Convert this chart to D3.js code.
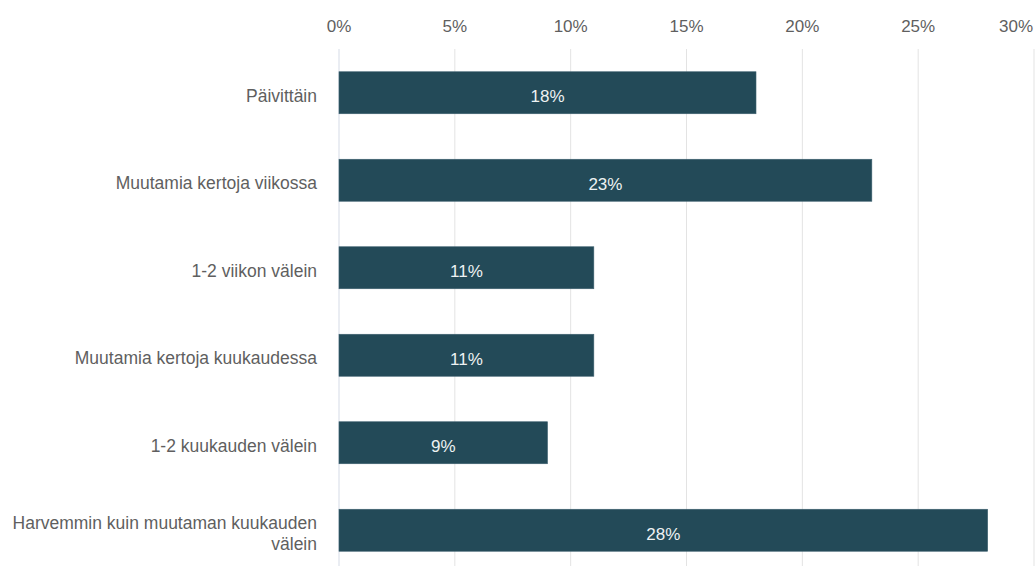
<!DOCTYPE html>
<html>
<head>
<meta charset="utf-8">
<script src="https://cdn.jsdelivr.net/npm/d3@7"></script>
<style>
  html, body { margin: 0; padding: 0; background: #ffffff; }
  svg { display: block; font-family: "Liberation Sans", Arial, sans-serif; }
</style>
</head>
<body>
<div id="chart"></div>
<script>
/* Horizontal bar chart – frequency shares, axis on top */
const categories = [
  ['Päivittäin'],
  ['Muutamia kertoja viikossa'],
  ['1-2 viikon välein'],
  ['Muutamia kertoja kuukaudessa'],
  ['1-2 kuukauden välein'],
  ['Harvemmin kuin muutaman kuukauden', 'välein']
];
const values = [18, 23, 11, 11, 9, 28];
const xTicks = [0, 5, 10, 15, 20, 25, 30];

(function () {
  const TW = 1035, TH = 566;
  const M = { top: 49, right: 1, bottom: -8, left: 339 };
  const W = TW - M.left - M.right;
  const H = TH - M.top - M.bottom;
  const BAR = '#234a58';
  const FS = '17px';

  const svg = d3.select('#chart').append('svg')
    .attr('width', TW).attr('height', TH);

  const root = svg.append('g')
    .attr('transform', `translate(${M.left},${M.top})`);

  const x = d3.scaleLinear().domain([0, 30]).range([0, W]);
  const y = d3.scaleBand().domain(d3.range(values.length))
    .range([0, H]).paddingInner(0.52).paddingOuter(0.26);

  // Gridlines
  root.append('g').selectAll('line')
    .data(xTicks)
    .join('line')
    .attr('x1', d => x(d)).attr('x2', d => x(d))
    .attr('y1', 0).attr('y2', TH)
    .attr('stroke', d => d === 0 ? '#d5dbe6' : '#e3e3e3')
    .attr('stroke-width', 1);

  // Top axis labels (last one kept inside the frame)
  const last = xTicks[xTicks.length - 1];
  root.append('g').selectAll('text')
    .data(xTicks)
    .join('text')
    .attr('x', d => d === last ? x(d) - 1 : x(d))
    .attr('y', -17)
    .attr('text-anchor', d => d === last ? 'end' : 'middle')
    .attr('fill', '#5f5f5f')
    .style('font-size', FS)
    .text(d => d + '%');

  // Bars
  root.append('g').selectAll('rect')
    .data(values)
    .join('rect')
    .attr('x', x(0))
    .attr('y', (d, i) => y(i))
    .attr('width', d => x(d) - x(0))
    .attr('height', y.bandwidth())
    .attr('fill', BAR)
    .attr('stroke', '#3e6270')
    .attr('stroke-width', 0.6);

  // Value labels
  root.append('g').selectAll('text')
    .data(values)
    .join('text')
    .attr('x', d => x(d / 2))
    .attr('y', (d, i) => y(i) + y.bandwidth() / 2 + 9.5)
    .attr('text-anchor', 'middle')
    .attr('fill', '#eef2f3')
    .style('font-size', FS)
    .text(d => d + '%');

  // Category labels
  const cat = root.append('g').selectAll('text')
    .data(categories)
    .join('text')
    .attr('x', -22)
    .attr('y', (d, i) => y(i) + y.bandwidth() / 2)
    .attr('text-anchor', 'end')
    .attr('fill', '#5f5f5f')
    .style('font-size', '17.5px');

  cat.each(function (lines) {
    const t = d3.select(this);
    const lh = 21;
    const off = -(lines.length - 1) * lh / 2;
    lines.forEach((ln, k) => {
      t.append('tspan')
        .attr('x', -22)
        .attr('dy', k === 0 ? (off + 9) + 'px' : lh + 'px')
        .text(ln);
    });
  });
})();
</script>
</body>
</html>
